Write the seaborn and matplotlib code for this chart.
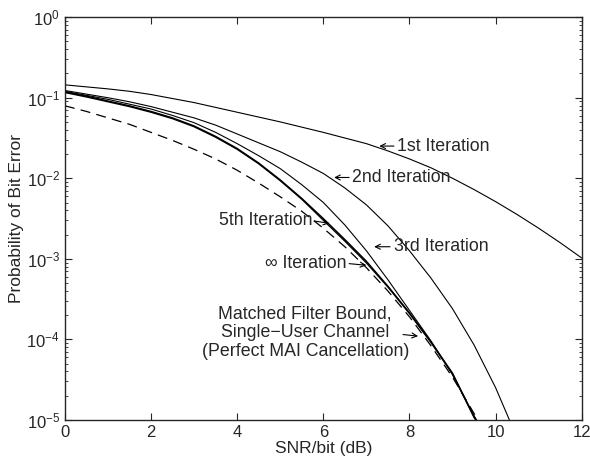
#%%
#  Importing Libraries

import numpy as np
import pandas as pd
import matplotlib
matplotlib.use('Agg')
import matplotlib.pyplot as plt
import seaborn as sns

#%%
#  Data (log10 of bit error probability vs SNR/bit in dB)

snr_1st = [0, 0.5, 1, 1.5, 2, 2.5, 3, 3.5, 4, 4.5, 5, 5.5, 6, 6.5, 7, 7.5, 8, 8.5,
           9, 9.5, 10, 10.5, 11, 11.5, 12]
logp_1st = [-0.84, -0.865, -0.89, -0.92, -0.96, -1.01, -1.06, -1.12, -1.18, -1.24,
            -1.30, -1.365, -1.43, -1.50, -1.57, -1.66, -1.76, -1.87, -2.00, -2.14,
            -2.29, -2.45, -2.62, -2.80, -2.99]

snr_2nd = [0, 0.5, 1, 1.5, 2, 2.5, 3, 3.5, 4, 4.5, 5, 5.5, 6, 6.5, 7, 7.5, 8, 8.5,
           9, 9.5, 10, 10.32]
logp_2nd = [-0.91, -0.955, -1.00, -1.05, -1.11, -1.18, -1.25, -1.34, -1.45, -1.56,
            -1.67, -1.80, -1.94, -2.12, -2.33, -2.59, -2.90, -3.24, -3.62, -4.07,
            -4.60, -5.0]

snr_3rd = [0, 0.5, 1, 1.5, 2, 2.5, 3, 3.5, 4, 4.5, 5, 5.5, 6, 6.5, 7, 7.5, 8, 8.5,
           9, 9.5, 9.56]
logp_3rd = [-0.92, -0.97, -1.02, -1.08, -1.14, -1.22, -1.31, -1.43, -1.57, -1.72,
            -1.88, -2.08, -2.30, -2.58, -2.90, -3.26, -3.64, -4.02, -4.44, -4.95, -5.0]

snr_5th = [0, 0.5, 1, 1.5, 2, 2.5, 3, 3.5, 4, 4.5, 5, 5.5, 6, 6.5, 7, 7.5, 8, 8.5,
           9, 9.5, 9.54]
logp_5th = [-0.93, -0.98, -1.04, -1.10, -1.17, -1.25, -1.35, -1.48, -1.63, -1.81,
            -2.02, -2.25, -2.50, -2.76, -3.03, -3.34, -3.67, -4.03, -4.42, -4.96, -5.0]

snr_inf = [0, 0.5, 1, 1.5, 2, 2.5, 3, 3.5, 4, 4.5, 5, 5.5, 6, 6.5, 7, 7.5, 8, 8.5,
           9, 9.5, 9.54]
logp_inf = [-0.935, -0.99, -1.05, -1.11, -1.18, -1.26, -1.36, -1.49, -1.64, -1.82,
            -2.03, -2.26, -2.52, -2.78, -3.05, -3.35, -3.68, -4.04, -4.43, -4.97, -5.0]

snr_mf = [0, 0.5, 1, 1.5, 2, 2.5, 3, 3.5, 4, 4.5, 5, 5.5, 6, 6.5, 7, 7.5, 8, 8.5,
          9, 9.5, 9.59]
logp_mf = [-1.10, -1.17, -1.25, -1.33, -1.43, -1.53, -1.64, -1.76, -1.90, -2.06,
           -2.23, -2.41, -2.62, -2.85, -3.11, -3.40, -3.72, -4.08, -4.47, -4.92, -5.0]

#%%
#  Plot

sns.set_style('ticks')
plt.rcParams['font.family'] = ['Liberation Sans', 'DejaVu Sans']
plt.rcParams['mathtext.fontset'] = 'custom'
plt.rcParams['mathtext.rm'] = 'Liberation Sans'

fig = plt.figure(figsize=(5.9, 4.65), dpi=100)
ax = fig.add_axes([0.110, 0.097, 0.876, 0.866])

curves = [
    (snr_1st, logp_1st, 0.8),
    (snr_2nd, logp_2nd, 0.8),
    (snr_3rd, logp_3rd, 0.8),
    (snr_5th, logp_5th, 1.0),
    (snr_inf, logp_inf, 1.0),
]
for x, lp, lw in curves:
    df = pd.DataFrame({'snr': x, 'pb': 10 ** np.array(lp)})
    sns.lineplot(data=df, x='snr', y='pb', ax=ax, color='black', lw=lw)

df_mf = pd.DataFrame({'snr': snr_mf, 'pb': 10 ** np.array(logp_mf)})
sns.lineplot(data=df_mf, x='snr', y='pb', ax=ax, color='black', lw=0.9,
             linestyle=(0, (8, 5)))

ax.set_yscale('log')
ax.set_xlim(0, 12)
ax.set_ylim(1e-5, 1)
ax.set_xticks([0, 2, 4, 6, 8, 10, 12])
ax.set_yticks([1e-5, 1e-4, 1e-3, 1e-2, 1e-1, 1])
ax.tick_params(which='both', direction='in', top=True, right=True, labelsize=12)
ax.tick_params(which='major', length=5)
ax.tick_params(which='minor', length=2.5)
for sp in ax.spines.values():
    sp.set_linewidth(1.0)
ax.set_xlabel('SNR/bit (dB)', fontsize=12.5, labelpad=1)
ax.set_ylabel('Probability of Bit Error', fontsize=12.5, labelpad=2)

#  Labels and arrows
fs = 12.8
arrow = dict(arrowstyle='->', lw=0.8, color='black', shrinkA=0, shrinkB=0,
             mutation_scale=9)

ax.text(7.71, 10 ** -1.60, '1st Iteration', fontsize=fs, ha='left', va='center')
ax.annotate('', xy=(7.30, 10 ** -1.60), xytext=(7.64, 10 ** -1.60), arrowprops=arrow)

ax.text(6.67, 10 ** -1.99, '2nd Iteration', fontsize=fs, ha='left', va='center')
ax.annotate('', xy=(6.25, 10 ** -1.99), xytext=(6.60, 10 ** -1.99), arrowprops=arrow)

ax.text(5.74, 10 ** -2.53, '5th Iteration', fontsize=fs, ha='right', va='center')
ax.annotate('', xy=(6.14, 10 ** -2.56), xytext=(5.79, 10 ** -2.53), arrowprops=arrow)

ax.text(7.64, 10 ** -2.85, '3rd Iteration', fontsize=fs, ha='left', va='center')
ax.annotate('', xy=(7.18, 10 ** -2.85), xytext=(7.55, 10 ** -2.85), arrowprops=arrow)

ax.text(6.53, 10 ** -3.06, '\u221e Iteration', fontsize=fs, ha='right', va='center')
ax.annotate('', xy=(7.00, 10 ** -3.08), xytext=(6.60, 10 ** -3.06), arrowprops=arrow)

ax.text(5.58, 10 ** -3.92, 'Matched Filter Bound,\nSingle\u2212User Channel\n(Perfect MAI Cancellation)',
        fontsize=fs, ha='center', va='center', linespacing=1.12)
ax.annotate('', xy=(8.20, 10 ** -3.96), xytext=(7.85, 10 ** -3.94), arrowprops=arrow)

plt.savefig('out.png', dpi=100)
